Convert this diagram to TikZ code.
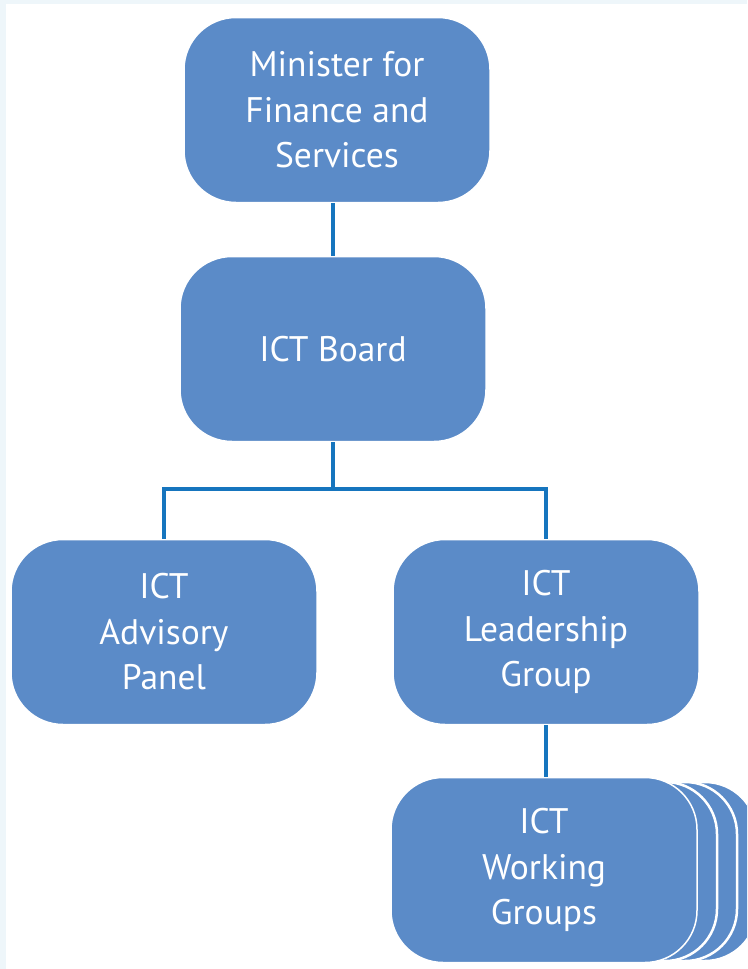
\documentclass[tikz,border=0pt]{standalone}
\usepackage{fontspec}
\setmainfont{PT Sans}
\definecolor{boxblue}{RGB}{91,139,200}
\definecolor{linkblue}{RGB}{22,117,190}
\definecolor{edgetint}{RGB}{238,246,250}
\begin{document}
\begin{tikzpicture}[x=1pt,y=-1pt,
  orgbox/.style={rounded corners=52pt, fill=boxblue, draw=white, line width=1.5pt,
    minimum width=306pt, minimum height=185pt, text=white, align=center,
    font=\fontsize{35.5}{45.5}\selectfont, inner sep=0pt},
  backcard/.style={rounded corners=52pt, fill=boxblue, draw=white, line width=2.5pt},
  link/.style={draw=linkblue, line width=4pt}]
  % page and tinted margins
  \useasboundingbox (0,0) rectangle (747,969);
  \fill[white] (0,0) rectangle (747,969);
  \fill[edgetint] (0,0) rectangle (747,4);
  \fill[edgetint] (0,0) rectangle (6,969);

  % stacked cards behind the working groups box
  \begin{scope}
    \clip (0,0) rectangle (747,969);
    \draw[backcard] (450,782) rectangle (757,961);
    \draw[backcard] (430,782) rectangle (737,961);
    \draw[backcard] (410,782) rectangle (717,961);
  \end{scope}

  % boxes
  \node[orgbox] (minister) at (337,110) {Minister for\\Finance and\\Services};
  \node[orgbox] (board) at (333,349) {ICT Board};
  \node[orgbox] (advisory) at (164,632) {ICT\\Advisory\\Panel};
  \node[orgbox] (leader) at (546,632) {ICT\\Leadership\\Group};
  \node[orgbox] (working) at (544,870) {ICT\\Working\\Groups};

  % connectors
  \coordinate (split) at (333,489);
  \draw[link] (minister.south -| board.south) -- (board.north);
  \draw[link] (board.south) -- (split);
  \draw[link, line join=miter] (split) -| (advisory.north);
  \draw[link, line join=miter] (split) -| (leader.north);
  \draw[link] (leader.south) -- (leader.south |- working.north);
\end{tikzpicture}
\end{document}
